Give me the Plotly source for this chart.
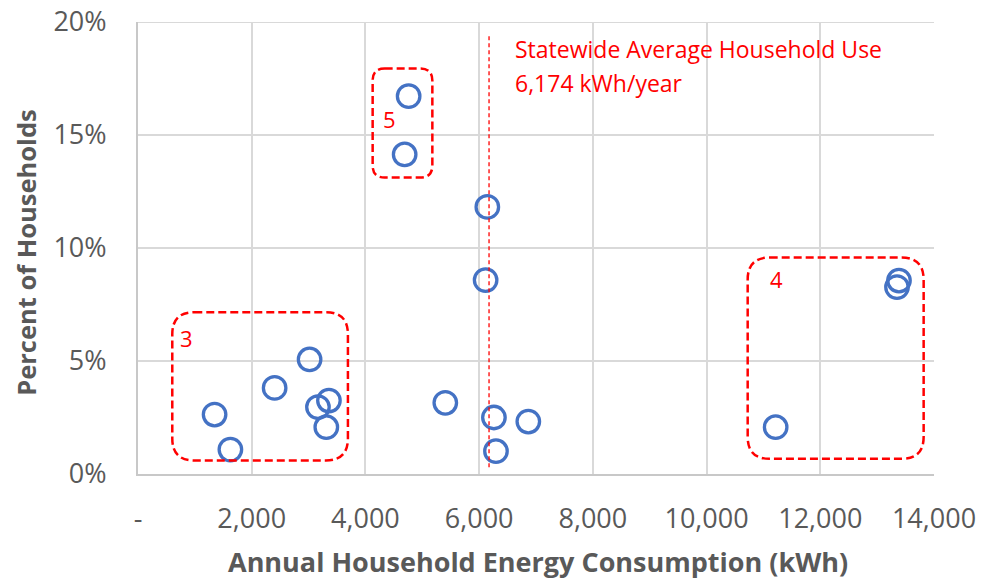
import plotly.graph_objects as go

# ---- data ----
energy_kwh = [1347, 1625, 2403, 3018, 3165, 3358, 3312, 4760, 4690, 6144, 6114,
              5405, 6260, 6296, 6865, 11215, 13384, 13349]
pct_households = [2.63, 1.08, 3.81, 5.07, 2.96, 3.25, 2.07, 16.72, 14.14, 11.82, 8.58,
                  3.15, 2.50, 1.01, 2.32, 2.07, 8.56, 8.27]
statewide_avg = 6174

x_tickvals = [0, 2000, 4000, 6000, 8000, 10000, 12000, 14000]
x_ticktext = ["-", "2,000", "4,000", "6,000", "8,000", "10,000", "12,000", "14,000"]
y_tickvals = [0, 5, 10, 15, 20]
y_ticktext = ["0%", "5%", "10%", "15%", "20%"]

# cluster boxes: label, x0, x1, y0, y1 (data units)
clusters = [
    ("3", 603, 3692, 0.60, 7.16),
    ("5", 4127, 5177, 13.12, 17.94),
    ("4", 10723, 13818, 0.67, 9.58),
]
cluster_label_pos = {"3": (855, 6.04), "5": (4423, 15.69), "4": (11230, 8.65)}

FONT = "Open Sans"
GRAY = "#595959"
RED = "#FF0000"
GRID = "#D9D9D9"

fig = go.Figure()
fig.add_trace(go.Scatter(
    x=energy_kwh, y=pct_households, mode="markers",
    marker=dict(symbol="circle-open", size=22.5, color="#4472C4",
                line=dict(width=3.3, color="#4472C4")),
    showlegend=False, hoverinfo="x+y"))

# px per data unit for rounded corners
PX_X = 796 / 14000
PX_Y = 452 / 20

def rounded_rect(x0, x1, y0, y1, r_px):
    rx = r_px / PX_X
    ry = r_px / PX_Y
    return (f"M {x0+rx},{y1} L {x1-rx},{y1} Q {x1},{y1} {x1},{y1-ry} "
            f"L {x1},{y0+ry} Q {x1},{y0} {x1-rx},{y0} "
            f"L {x0+rx},{y0} Q {x0},{y0} {x0},{y0+ry} "
            f"L {x0},{y1-ry} Q {x0},{y1} {x0+rx},{y1} Z")

shapes = []
# top gridline at the top edge of the range (plotly drops edge gridlines)
shapes.append(dict(type="line", xref="paper", yref="y", x0=0, x1=1,
                   y0=y_tickvals[-1], y1=y_tickvals[-1],
                   line=dict(color=GRID, width=2), layer="below"))
for lab, x0, x1, y0, y1 in clusters:
    r = 12 if lab == "5" else 22
    shapes.append(dict(type="path", xref="x", yref="y",
                       path=rounded_rect(x0, x1, y0, y1, r),
                       line=dict(color=RED, width=2.5, dash="8px,4px"),
                       fillcolor="rgba(0,0,0,0)", layer="above"))

shapes.append(dict(type="line", xref="x", yref="y",
                   x0=statewide_avg, x1=statewide_avg, y0=0.3, y1=19.45,
                   line=dict(color=RED, width=1.3, dash="4px,3px")))

annotations = []
for lab, (lx, ly) in cluster_label_pos.items():
    annotations.append(dict(x=lx, y=ly, xref="x", yref="y", text=lab,
                            showarrow=False, font=dict(family=FONT, size=22, color=RED)))

annotations.append(dict(x=(513 - 138.4) / PX_X, y=(474.5 - 49) / PX_Y, xref="x", yref="y",
                        text="Statewide Average Household Use", showarrow=False,
                        xanchor="left", yanchor="middle",
                        font=dict(family=FONT, size=23, color=RED)))
annotations.append(dict(x=(513 - 138.4) / PX_X, y=(474.5 - 83) / PX_Y, xref="x", yref="y",
                        text="6,174 kWh/year", showarrow=False,
                        xanchor="left", yanchor="middle",
                        font=dict(family=FONT, size=23, color=RED)))

annotations.append(dict(x=0.502, y=-0.193, xref="paper", yref="paper",
                        text="<b>Annual Household Energy Consumption (kWh)</b>",
                        showarrow=False, xanchor="center", yanchor="middle",
                        font=dict(family=FONT, size=27, color=GRAY)))
annotations.append(dict(x=-0.14, y=0.4906, xref="paper", yref="paper",
                        text="<b>Percent of Households</b>", textangle=-90,
                        showarrow=False, xanchor="center", yanchor="middle",
                        font=dict(family=FONT, size=25.5, color=GRAY)))

# page body has an 8px margin, so the figure is sized to fit and offsets compensated
fig.update_layout(
    width=978, height=572,
    margin=dict(l=130, r=52, t=14, b=106, autoexpand=False),
    paper_bgcolor="white", plot_bgcolor="white",
    shapes=shapes, annotations=annotations,
    xaxis=dict(range=[0, 14000.01], tickvals=x_tickvals, ticktext=x_ticktext,
               showgrid=True, gridcolor=GRID, gridwidth=2,
               showline=True, linecolor="#C8C8C8", linewidth=2,
               zeroline=False, ticks="", ticklabelstandoff=20,
               ticklabeloverflow="allow",
               tickfont=dict(family=FONT, size=27, color=GRAY)),
    yaxis=dict(range=[0, 20.001], tickvals=y_tickvals, ticktext=y_ticktext,
               showgrid=True, gridcolor=GRID, gridwidth=2,
               showline=True, linecolor="#C8C8C8", linewidth=2,
               zeroline=False, ticks="", ticklabelstandoff=24,
               ticklabeloverflow="allow",
               tickfont=dict(family=FONT, size=27, color=GRAY)),
)

fig.write_html("out.html")
